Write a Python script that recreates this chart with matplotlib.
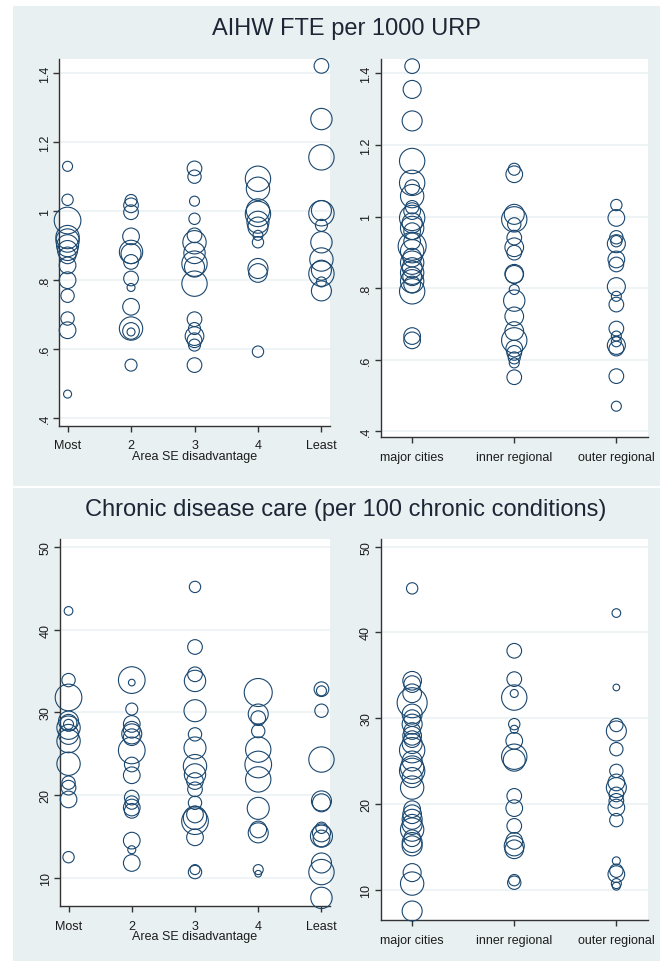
import matplotlib
matplotlib.use("Agg")
import matplotlib.pyplot as plt
from matplotlib.patches import Rectangle

plt.rcParams['font.family'] = ['Liberation Sans', 'DejaVu Sans']

# ---------------- data ----------------
se_labels = ['Most', '2', '3', '4', 'Least']
remote_labels = ['major cities', 'inner regional', 'outer regional']

# AIHW FTE per 1000 URP, by area SE disadvantage (values, relative weights)
fte_se_values = [
    [1.13, 1.033, 0.973, 0.925, 0.915, 0.90, 0.886, 0.872, 0.843, 0.80, 0.755, 0.689, 0.655, 0.47],
    [1.031, 1.017, 0.997, 0.927, 0.882, 0.877, 0.853, 0.805, 0.779, 0.723, 0.66, 0.653, 0.65, 0.554],
    [1.124, 1.10, 1.029, 0.978, 0.93, 0.91, 0.879, 0.848, 0.838, 0.79, 0.687, 0.66, 0.638, 0.626, 0.612, 0.554],
    [1.094, 1.065, 1.002, 0.992, 0.968, 0.954, 0.93, 0.91, 0.834, 0.821, 0.593],
    [1.421, 1.267, 1.156, 1.002, 0.994, 0.959, 0.91, 0.86, 0.829, 0.819, 0.795, 0.769],
]
fte_se_weights = [
    [15, 17, 40, 35, 35, 33, 30, 25, 25, 25, 20, 20, 25, 12],
    [18, 22, 22, 25, 35, 30, 22, 22, 12, 25, 35, 25, 12, 18],
    [22, 20, 15, 17, 22, 35, 32, 38, 30, 38, 22, 18, 28, 22, 18, 22],
    [38, 35, 35, 38, 33, 30, 15, 17, 30, 28, 17],
    [22, 32, 38, 30, 38, 18, 32, 35, 30, 38, 15, 30],
]

# AIHW FTE per 1000 URP, by remoteness
fte_rem_values = [
    [1.42, 1.355, 1.267, 1.155, 1.094, 1.082, 1.057, 1.026, 1.015, 0.996, 0.982, 0.968, 0.959,
     0.931, 0.917, 0.903, 0.885, 0.871, 0.857, 0.843, 0.833, 0.819, 0.81, 0.791, 0.666, 0.654],
    [1.132, 1.118, 1.006, 0.992, 0.978, 0.941, 0.914, 0.899, 0.84, 0.838, 0.796, 0.765, 0.721,
     0.68, 0.654, 0.631, 0.619, 0.605, 0.591, 0.551],
    [1.032, 0.996, 0.942, 0.931, 0.924, 0.88, 0.866, 0.804, 0.777, 0.754, 0.687, 0.666, 0.65,
     0.64, 0.631, 0.554, 0.47],
]
fte_rem_weights = [
    [22, 27, 30, 38, 38, 22, 35, 20, 25, 38, 30, 35, 25, 25, 42, 35, 28, 35, 30, 35, 28, 35, 25, 38, 25, 25],
    [18, 25, 30, 38, 20, 22, 28, 22, 28, 27, 15, 32, 28, 28, 38, 25, 22, 18, 15, 22],
    [17, 25, 20, 17, 27, 25, 22, 27, 15, 22, 22, 15, 15, 27, 22, 22, 15],
]

# Chronic disease care (per 100 chronic conditions), by area SE disadvantage
cdc_se_values = [
    [42.26, 33.9, 31.8, 28.95, 28.75, 28.55, 28.15, 27.34, 26.53, 23.79, 21.5, 20.9, 19.48, 12.5],
    [33.9, 33.6, 30.4, 28.6, 27.9, 27.4, 27.0, 25.4, 23.7, 22.4, 19.7, 19.1, 18.5, 18.1, 14.5, 13.4, 11.8],
    [45.16, 37.9, 34.6, 33.8, 30.2, 27.34, 25.7, 23.5, 22.5, 21.7, 20.7, 19.07, 17.66, 17.26, 16.85,
     14.9, 11.0, 10.7],
    [32.4, 29.8, 29.3, 27.74, 25.5, 23.7, 21.9, 18.4, 15.85, 15.44, 11.0, 10.5],
    [32.8, 32.6, 30.2, 24.3, 19.3, 19.07, 16.05, 15.44, 15.04, 14.76, 11.8, 10.7, 7.58],
]
cdc_se_weights = [
    [13, 20, 40, 30, 25, 15, 35, 30, 35, 35, 20, 22, 25, 17],
    [40, 10, 18, 25, 25, 30, 25, 40, 22, 25, 22, 20, 25, 22, 25, 12, 25],
    [17, 22, 22, 32, 33, 20, 33, 35, 32, 25, 22, 20, 25, 35, 40, 25, 15, 20],
    [42, 30, 22, 20, 38, 40, 38, 33, 25, 30, 15, 10],
    [22, 15, 20, 38, 30, 27, 17, 27, 33, 25, 30, 38, 32],
]

# Chronic disease care, by remoteness
cdc_rem_values = [
    [45.14, 34.36, 33.97, 32.9, 31.8, 30.47, 30.0, 29.3, 28.5, 27.94, 27.55, 27.04, 26.26, 25.0,
     24.24, 23.85, 23.07, 21.9, 19.38, 18.79, 18.2, 17.6, 17.0, 15.99, 15.49, 15.1, 11.98, 10.7, 7.5],
    [37.86, 34.55, 32.88, 32.4, 29.3, 28.7, 27.35, 25.5, 25.1, 20.93, 19.5, 17.43, 15.68, 15.1,
     14.7, 11.1, 10.8],
    [42.26, 33.58, 29.2, 28.5, 26.38, 23.85, 22.5, 21.9, 21.1, 20.35, 19.57, 18.1, 13.35, 12.2,
     11.8, 10.7, 10.4],
]
cdc_rem_weights = [
    [17, 28, 25, 28, 45, 30, 25, 30, 25, 28, 25, 30, 38, 30, 35, 38, 30, 35, 25, 28, 30, 30, 35,
     25, 30, 30, 27, 35, 30],
    [22, 22, 12, 38, 17, 12, 25, 38, 33, 22, 25, 22, 25, 30, 28, 17, 20],
    [13, 10, 20, 30, 20, 20, 25, 30, 22, 22, 25, 20, 12, 20, 25, 15, 12],
]

fte_ticks = [0.4, 0.6, 0.8, 1.0, 1.2, 1.4]
fte_ticklabels = ['.4', '.6', '.8', '1', '1.2', '1.4']
cdc_ticks = [10, 20, 30, 40, 50]

titles = ['AIHW FTE per 1000 URP', 'Chronic disease care (per 100 chronic conditions)']
se_xlabel = 'Area SE disadvantage'

# ---------------- style ----------------
W, H = 660, 962
NAVY = '#1A476F'
PANEL_BG = '#E9F0F2'
GRID = '#EBF2F4'
TXT = '#1c1c1c'

fig = plt.figure(figsize=(W / 100, H / 100), dpi=100)
fig.patch.set_facecolor('white')


def px_rect(x0, y0, x1, y1):
    return [x0 / W, 1 - y1 / H, (x1 - x0) / W, (y1 - y0) / H]


# panel backgrounds
for (y0, y1) in [(7, 486.5), (488.5, 962)]:
    r = px_rect(13, y0, 660, y1)
    fig.patches.append(Rectangle((r[0], r[1]), r[2], r[3], transform=fig.transFigure,
                                 facecolor=PANEL_BG, edgecolor='none', zorder=-10))

fig.text(346 / W, 1 - 29.5 / H, titles[0], ha='center', va='center', fontsize=17, color='#1d2635')
fig.text(346 / W, 1 - 510 / H, titles[1], ha='center', va='center', fontsize=17, color='#1d2635')


def draw(ax, values, weights, labels, yticks, yticklabels, ylim, xlim, xlabel=None):
    ax.set_facecolor('white')
    for i, (vals, wts) in enumerate(zip(values, weights)):
        xs = [i + 1] * len(vals)
        sizes = [(0.48 * w) ** 2 for w in wts]
        ax.scatter(xs, vals, s=sizes, facecolors='none', edgecolors=NAVY, linewidths=0.8,
                   zorder=3, clip_on=False)
    ax.set_xlim(*xlim)
    ax.set_ylim(*ylim)
    ax.set_xticks(range(1, len(labels) + 1))
    ax.set_xticklabels(labels, fontsize=9, color=TXT)
    ax.set_yticks(yticks)
    ax.set_yticklabels(yticklabels, fontsize=9, color=TXT, rotation=90, va='center')
    ax.grid(axis='y', color=GRID, linewidth=1.2, zorder=0)
    ax.set_axisbelow(True)
    for s in ['top', 'right']:
        ax.spines[s].set_visible(False)
    for s in ['left', 'bottom']:
        ax.spines[s].set_color('#333333')
        ax.spines[s].set_linewidth(1.0)
    ax.tick_params(axis='y', length=4, width=1.0, color='#333333', pad=2)
    ax.tick_params(axis='x', length=4, width=1.0, color='#333333', pad=6)
    if xlabel:
        ax.set_xlabel(xlabel, fontsize=9, color=TXT, labelpad=-1)


ax1 = fig.add_axes(px_rect(59, 60, 330, 426.5))
draw(ax1, fte_se_values, fte_se_weights, se_labels, fte_ticks, fte_ticklabels,
     (0.379, 1.441), (0.865, 5.135), se_xlabel)
ax2 = fig.add_axes(px_rect(380.5, 60, 648, 438))
draw(ax2, fte_rem_values, fte_rem_weights, remote_labels, fte_ticks, fte_ticklabels,
     (0.384, 1.44), (0.69, 3.31))
ax3 = fig.add_axes(px_rect(60, 540, 330, 907))
draw(ax3, cdc_se_values, cdc_se_weights, se_labels, cdc_ticks, [str(t) for t in cdc_ticks],
     (6.6, 50.95), (0.865, 5.135), se_xlabel)
ax4 = fig.add_axes(px_rect(380.5, 540, 648, 921))
draw(ax4, cdc_rem_values, cdc_rem_weights, remote_labels, cdc_ticks, [str(t) for t in cdc_ticks],
     (6.45, 50.9), (0.69, 3.31))

fig.savefig('out.png', dpi=100, facecolor='white')
